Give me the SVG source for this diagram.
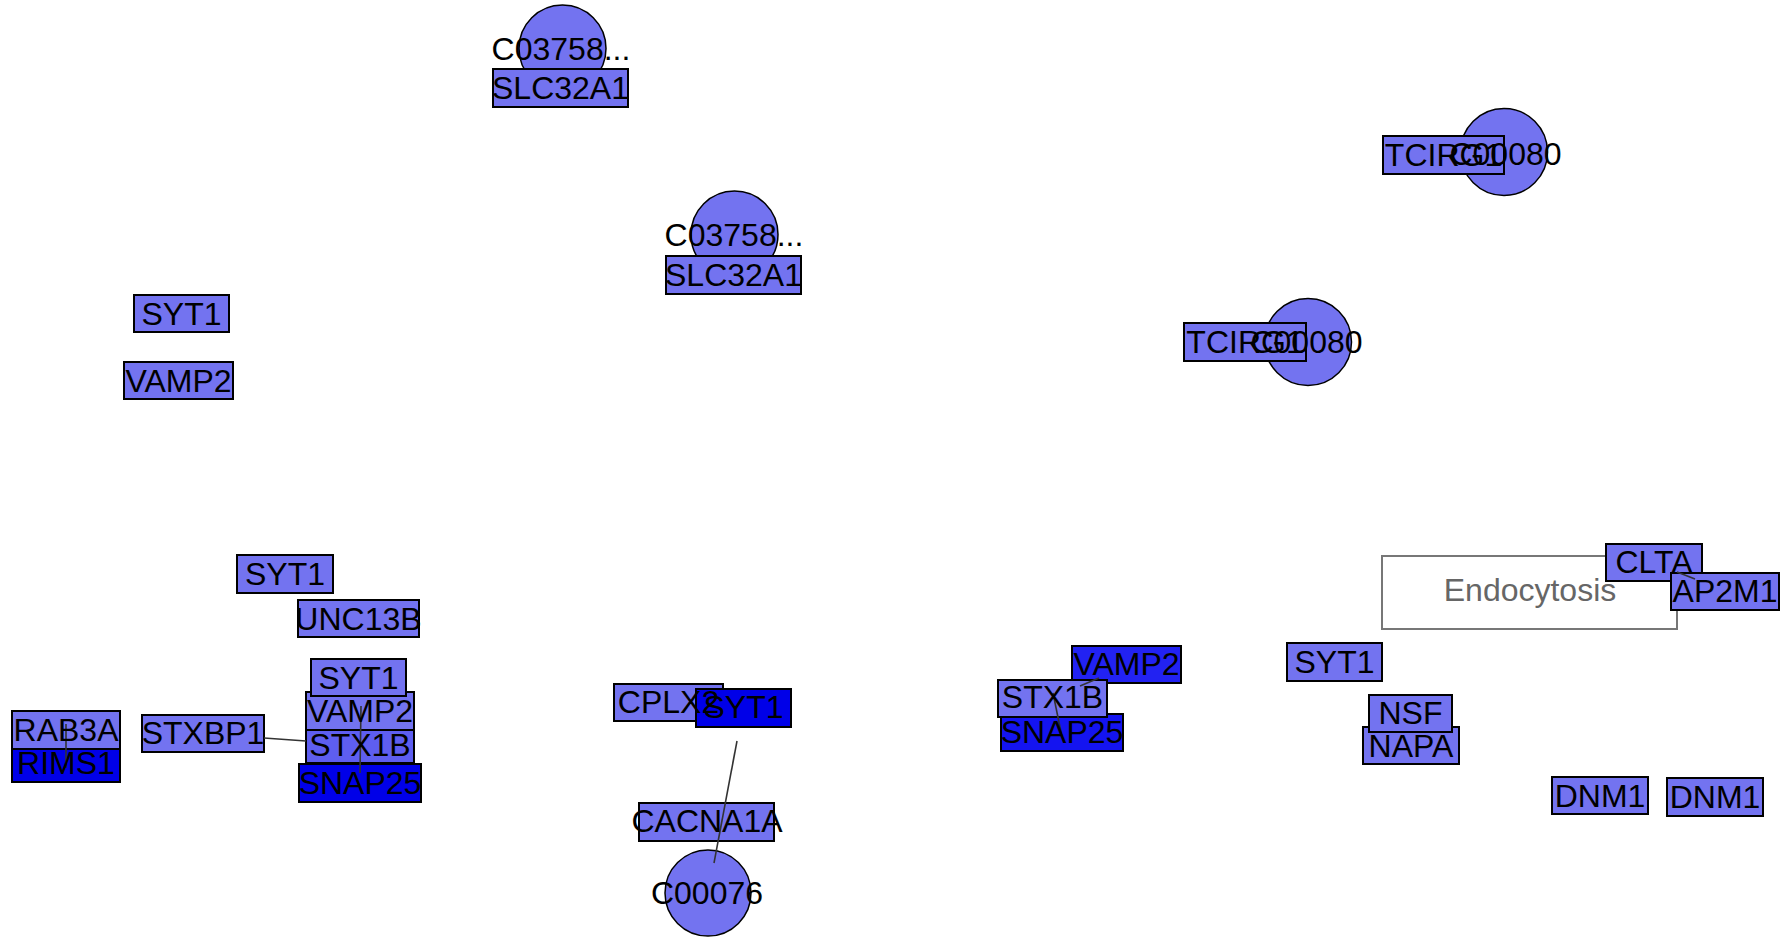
<svg xmlns="http://www.w3.org/2000/svg" width="1788" height="941" viewBox="0 0 1788 941">
<style>
.b{fill:#7373f0;stroke:#000;stroke-width:2}
.s{fill:#5e5ef0;stroke:#000;stroke-width:2}
.d{fill:#0000e8;stroke:#000;stroke-width:2}
.d2{fill:#1414f0;stroke:#000;stroke-width:2}
.d3{fill:#2222f2;stroke:#000;stroke-width:2}
.c{fill:#7373f0;stroke:#000;stroke-width:1.5}
.e{stroke:#333;stroke-width:1.6;fill:none}
text{font-family:"Liberation Sans",Arial,sans-serif;font-size:32px;fill:#000;text-anchor:middle}
.gt{fill:#666}
</style>
<rect width="1788" height="941" fill="#fff"/>
<g id="nodes">
<g id="cpd-C03758-a"><circle class="c" cx="562.5" cy="48.5" r="43.5"/></g>
<g id="SLC32A1-a"><rect class="b" x="493" y="69" width="135" height="38"/></g>
<g id="cpd-C03758-b"><circle class="c" cx="734.5" cy="234.5" r="43.5"/></g>
<g id="SLC32A1-b"><rect class="b" x="666" y="256" width="135" height="38"/></g>
<g id="SYT1-a"><rect class="b" x="134" y="295" width="95" height="37"/></g>
<g id="VAMP2-a"><rect class="b" x="124" y="362" width="109" height="37"/></g>
<g id="cpd-C00080-a"><circle class="c" cx="1504" cy="152" r="43.5"/></g>
<g id="TCIRG1-a"><rect class="b" x="1383" y="136" width="121" height="38"/></g>
<g id="cpd-C00080-b"><circle class="c" cx="1308" cy="342" r="43.5"/></g>
<g id="TCIRG1-b"><rect class="b" x="1184" y="323" width="122" height="38"/></g>
<g id="SYT1-b"><rect class="b" x="237" y="555" width="96" height="38"/></g>
<g id="UNC13B"><rect class="b" x="298" y="600" width="121" height="37"/></g>
<g id="SNAP25-a"><rect class="d" x="299" y="764" width="122" height="38"/></g>
<g id="STX1B-a"><rect class="s" x="306" y="727" width="108" height="36"/></g>
<g id="VAMP2-b"><rect class="b" x="306" y="692" width="108" height="38"/></g>
<g id="SYT1-c"><rect class="b" x="311" y="659" width="95" height="37"/></g>
<g id="RIMS1"><rect class="d" x="12" y="746" width="108" height="36"/></g>
<g id="RAB3A"><rect class="b" x="12" y="711" width="108" height="38"/></g>
<g id="STXBP1"><rect class="b" x="142" y="715" width="122" height="37"/></g>
<g id="CPLX2"><rect class="b" x="614" y="684" width="109" height="37"/></g>
<g id="SYT1-d"><rect class="d" x="696" y="689" width="95" height="38"/></g>
<g id="CACNA1A"><rect class="b" x="639" y="803" width="135" height="38"/></g>
<g id="cpd-C00076"><circle class="c" cx="708" cy="893" r="43"/></g>
<g id="VAMP2-c"><rect class="d3" x="1072" y="646" width="109" height="37"/></g>
<g id="SNAP25-b"><rect class="d2" x="1001" y="714" width="122" height="37"/></g>
<g id="STX1B-b"><rect class="b" x="998" y="680" width="109" height="37"/></g>
<g id="SYT1-e"><rect class="b" x="1287" y="643" width="95" height="38"/></g>
<g id="NAPA"><rect class="b" x="1363" y="727" width="96" height="37"/></g>
<g id="NSF"><rect class="b" x="1369" y="695" width="83" height="37"/></g>
<g id="Endocytosis"><rect x="1382" y="556" width="295" height="73" fill="#fff" stroke="#777" stroke-width="2"/></g>
<g id="CLTA"><rect class="b" x="1606" y="544" width="96" height="37"/></g>
<g id="AP2M1"><rect class="b" x="1671" y="573" width="108" height="37"/></g>
<g id="DNM1-a"><rect class="b" x="1552" y="777" width="96" height="37"/></g>
<g id="DNM1-b"><rect class="b" x="1667" y="778" width="96" height="38"/></g>
</g>
<g id="edges">
<line class="e" x1="66" y1="724" x2="66" y2="768"/>
<line class="e" x1="264" y1="738" x2="306" y2="741"/>
<line class="e" x1="361" y1="706" x2="360" y2="773"/>
<line class="e" x1="737" y1="741" x2="714" y2="863"/>
<line class="e" x1="1080" y1="686" x2="1099" y2="678"/>
<line class="e" x1="1053" y1="693" x2="1062" y2="737"/>
<line class="e" x1="1677" y1="572" x2="1695" y2="579"/>
</g>
<g id="labels">
<text x="561" y="60">C03758...</text>
<text x="560.5" y="99">SLC32A1</text>
<text x="734" y="246">C03758...</text>
<text x="733.5" y="286">SLC32A1</text>
<text x="181.5" y="324.5">SYT1</text>
<text x="178.5" y="391.5">VAMP2</text>
<text x="1443.5" y="166">TCIRG1</text>
<text x="1505.5" y="165">C00080</text>
<text x="1245" y="353">TCIRG1</text>
<text x="1306.5" y="353">C00080</text>
<text x="285" y="585">SYT1</text>
<text x="358.5" y="629.5">UNC13B</text>
<text x="358.5" y="688.5">SYT1</text>
<text x="360" y="722">VAMP2</text>
<text x="360" y="756">STX1B</text>
<text x="360" y="794">SNAP25</text>
<text x="66" y="741">RAB3A</text>
<text x="66" y="774">RIMS1</text>
<text x="203" y="744">STXBP1</text>
<text x="668.5" y="713">CPLX2</text>
<text x="743.5" y="718">SYT1</text>
<text x="707" y="832">CACNA1A</text>
<text x="707" y="904">C00076</text>
<text x="1126.5" y="675">VAMP2</text>
<text x="1052.5" y="708">STX1B</text>
<text x="1062" y="743">SNAP25</text>
<text x="1334.5" y="673">SYT1</text>
<text x="1410.5" y="724">NSF</text>
<text x="1411" y="757">NAPA</text>
<text class="gt" x="1530" y="601">Endocytosis</text>
<text x="1654" y="573">CLTA</text>
<text x="1725" y="602">AP2M1</text>
<text x="1600" y="807">DNM1</text>
<text x="1715" y="808">DNM1</text>
</g>
</svg>
